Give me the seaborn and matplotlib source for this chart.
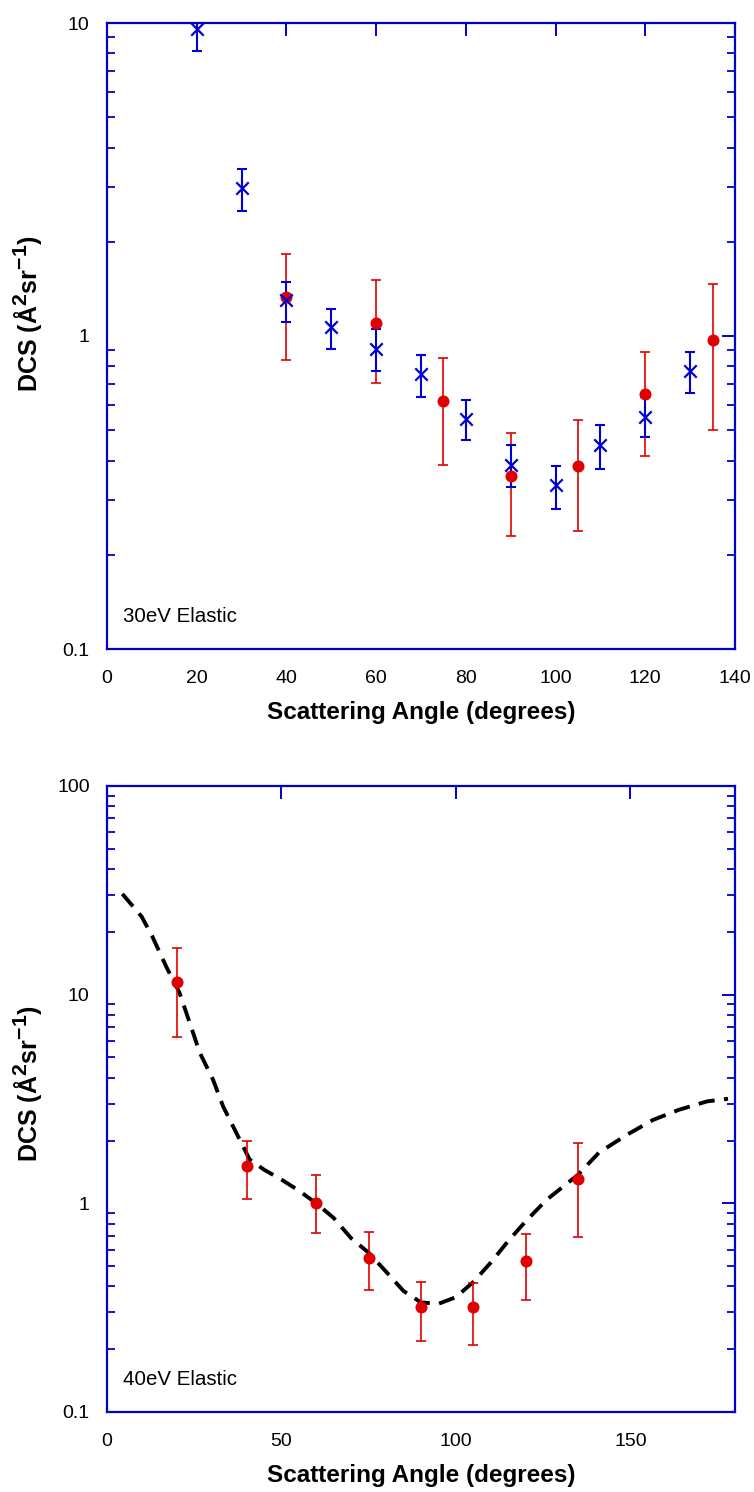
import matplotlib
matplotlib.use("Agg")
import matplotlib.pyplot as plt
import matplotlib.ticker as mticker
import matplotlib._mathtext as _mt
import numpy as np
import seaborn as sns

# ---------------- data ----------------
top_blue_x = [20, 30, 40, 50, 60, 70, 80, 90, 100, 110, 120, 130]
top_blue_y = [9.6, 2.97, 1.30, 1.07, 0.91, 0.754, 0.542, 0.387, 0.333, 0.447, 0.553, 0.773]
top_blue_lo = [8.15, 2.51, 1.11, 0.91, 0.775, 0.64, 0.464, 0.329, 0.281, 0.377, 0.476, 0.656]
top_blue_hi = [11.2, 3.42, 1.49, 1.22, 1.05, 0.87, 0.625, 0.447, 0.384, 0.519, 0.64, 0.89]

top_red_x = [40, 60, 75, 90, 105, 120, 135]
top_red_y = [1.33, 1.10, 0.62, 0.358, 0.385, 0.651, 0.97]
top_red_lo = [0.84, 0.71, 0.388, 0.23, 0.238, 0.414, 0.502]
top_red_hi = [1.83, 1.51, 0.85, 0.49, 0.54, 0.891, 1.47]

bot_red_x = [20, 40, 60, 75, 90, 105, 120, 135]
bot_red_y = [11.5, 1.51, 1.0, 0.55, 0.32, 0.32, 0.53, 1.31]
bot_red_lo = [6.3, 1.05, 0.72, 0.385, 0.22, 0.21, 0.345, 0.69]
bot_red_hi = [16.7, 2.0, 1.36, 0.73, 0.42, 0.415, 0.71, 1.94]

theory_x = [4.4, 9.9, 13, 17, 20.8, 26.6, 30.4, 33.3, 37.1, 40.9, 45, 50, 55, 60, 65,
            70, 75, 80, 85, 90, 95, 100, 105, 110, 115, 120, 126, 135, 141, 149,
            156.5, 164, 172, 178]
theory_y = [30.4, 23.7, 19, 13.6, 10.2, 5.27, 3.91, 2.91, 2.17, 1.62, 1.45, 1.3, 1.15,
            1.0, 0.85, 0.68, 0.58, 0.47, 0.38, 0.335, 0.33, 0.355, 0.42, 0.52, 0.66,
            0.82, 1.04, 1.37, 1.75, 2.13, 2.51, 2.81, 3.08, 3.17]

top_xticks = [0, 20, 40, 60, 80, 100, 120, 140]
bot_xticks = [0, 50, 100, 150]
top_label = "30eV Elastic"
bot_label = "40eV Elastic"
xlabel = "Scattering Angle (degrees)"
ylabel = r"DCS (Å$^{\mathbf{2}}$sr$^{\mathbf{-1}}$)"

# ---------------- style ----------------
sns.set_theme(style="white")
plt.rcParams["font.family"] = ["Liberation Sans", "DejaVu Sans"]
plt.rcParams["mathtext.fontset"] = "custom"
plt.rcParams["mathtext.rm"] = "Liberation Sans"
plt.rcParams["mathtext.bf"] = "Liberation Sans:bold"
plt.rcParams["text.color"] = "black"
plt.rcParams["axes.labelcolor"] = "black"
_mt.SHRINK_FACTOR = 0.85  # larger superscripts as in the reference

BLUE = "#0000d4"
RED = "#e00000"

fig = plt.figure(figsize=(7.54, 14.92), dpi=100)
ax1 = fig.add_axes([107 / 754, 1 - 649 / 1492, 628 / 754, 626 / 1492])
ax2 = fig.add_axes([107 / 754, 1 - 1412 / 1492, 628 / 754, 626 / 1492])


def style_axes(ax, xlim, ylim, xticks, ylab_y):
    ax.set_yscale("log")
    ax.set_xlim(*xlim)
    ax.set_ylim(*ylim)
    ax.set_xticks(xticks)
    ax.xaxis.set_minor_locator(mticker.NullLocator())
    ax.yaxis.set_major_locator(mticker.LogLocator(base=10, numticks=10))
    ax.yaxis.set_minor_locator(mticker.LogLocator(base=10, subs=np.arange(2, 10), numticks=10))
    ax.yaxis.set_major_formatter(mticker.FuncFormatter(lambda v, p: f"{v:g}"))
    ax.yaxis.set_minor_formatter(mticker.NullFormatter())
    for s in ax.spines.values():
        s.set_color(BLUE)
        s.set_linewidth(1.6)
    ax.tick_params(axis="both", which="major", direction="in", length=9.5, width=1.4,
                   color=BLUE, top=True, right=True, labelsize=14,
                   labelcolor="black")
    ax.tick_params(axis="y", which="major", pad=12.5)
    ax.tick_params(axis="x", which="major", pad=15)
    ax.tick_params(axis="y", which="minor", direction="in", length=6, width=1.3,
                   color=BLUE, left=True, right=True)
    ax.set_xlabel(xlabel, fontsize=17.5, fontweight="bold", va="top")
    ax.xaxis.set_label_coords(0.5, -0.083)
    ax.set_ylabel(ylabel, fontsize=18, fontweight="bold")
    ax.yaxis.set_label_coords(-0.098, ylab_y)
    ax.grid(False)


# ---------------- top panel ----------------
style_axes(ax1, (0, 140), (0.1, 10), top_xticks, 0.536)
yb = np.array(top_blue_y)
ax1.errorbar(top_blue_x, yb, yerr=[yb - np.array(top_blue_lo), np.array(top_blue_hi) - yb],
             fmt="none", ecolor=BLUE, elinewidth=1.5, capsize=3.3, capthick=1.5, zorder=2)
sns.scatterplot(x=top_blue_x, y=top_blue_y, marker="x", s=80, color=BLUE,
                linewidth=1.6, ax=ax1, zorder=4)
yr = np.array(top_red_y)
ax1.errorbar(top_red_x, yr, yerr=[yr - np.array(top_red_lo), np.array(top_red_hi) - yr],
             fmt="none", ecolor=RED, elinewidth=1.2, capsize=3.3, capthick=1.2, zorder=1)
sns.scatterplot(x=top_red_x, y=top_red_y, marker="o", s=75, color=RED,
                edgecolor=RED, linewidth=0, ax=ax1, zorder=3)
ax1.text(0.025, 0.052, top_label, transform=ax1.transAxes, fontsize=14.8,
         ha="left", va="center")

# ---------------- bottom panel ----------------
style_axes(ax2, (0, 180), (0.1, 100), bot_xticks, 0.525)
sns.lineplot(x=theory_x, y=theory_y, color="black", linewidth=2.8, sort=False,
             estimator=None, ax=ax2, linestyle=(0, (4.2, 2.4)), zorder=2)
yr2 = np.array(bot_red_y)
ax2.errorbar(bot_red_x, yr2, yerr=[yr2 - np.array(bot_red_lo), np.array(bot_red_hi) - yr2],
             fmt="none", ecolor=RED, elinewidth=1.2, capsize=3.3, capthick=1.2, zorder=3)
sns.scatterplot(x=bot_red_x, y=bot_red_y, marker="o", s=75, color=RED,
                edgecolor=RED, linewidth=0, ax=ax2, zorder=4)
ax2.text(0.025, 0.052, bot_label, transform=ax2.transAxes, fontsize=14.8,
         ha="left", va="center")

fig.savefig("out.png", dpi=100)
